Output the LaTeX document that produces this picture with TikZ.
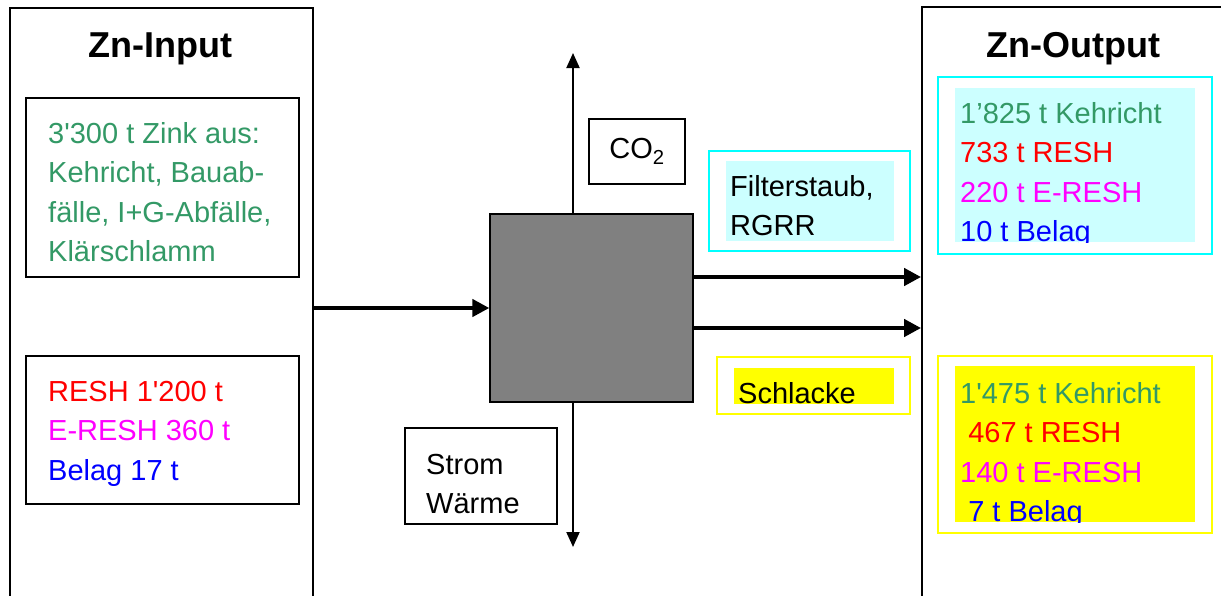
\documentclass[tikz,border=0pt]{standalone}
\usepackage{fontspec}
\setmainfont{Liberation Sans}
\usetikzlibrary{arrows.meta,calc}
\definecolor{SeaGreen}{HTML}{339966}
\definecolor{PureRed}{HTML}{FF0000}
\definecolor{PureMagenta}{HTML}{FF00FF}
\definecolor{PureBlue}{HTML}{0000FF}
\definecolor{CyanLine}{HTML}{00FFFF}
\definecolor{CyanFill}{HTML}{CCFFFF}
\definecolor{YellowLine}{HTML}{FFFF00}
\definecolor{ProcGray}{HTML}{808080}
\begin{document}
\begin{tikzpicture}[x=1pt, y=-1pt,
  bigbox/.style = {draw, line width=1.8pt, inner sep=0pt},
  panel/.style  = {draw, line width=1.3pt, inner sep=0pt},
  tint/.style   = {inner sep=0pt},
  txt/.style    = {inner sep=0pt, align=left, anchor=base west,
                   font=\fontsize{29}{39.5}\selectfont},
  title/.style  = {inner sep=0pt, anchor=base,
                   font=\fontsize{36}{40}\selectfont\bfseries},
  flow/.style   = {line width=4.5pt, -{Triangle[length=17pt,width=17pt]}},
  vent/.style   = {line width=2pt, -{Triangle[length=15pt,width=13pt]}}
]
  \useasboundingbox (0,0) rectangle (1221,595);
  \clip (0,0) rectangle (1221,595);

  \node[bigbox, minimum width=303pt, minimum height=632pt] (inbox)  at (161.5,324) {};
  \node[bigbox, minimum width=358pt, minimum height=633pt] (outbox) at (1101,323.5) {};
  \node[title] (intitle)  at (160,57.5) {Zn-Input};
  \node[title] (outtitle) at (1073,57.5) {Zn-Output};

  \node[panel, minimum width=273pt, minimum height=179pt] (srcmix)  at (162.5,187.5) {};
  \node[txt, SeaGreen] (srcmixtxt) at (48,261.5)
    {3\textquotesingle300 t Zink aus:\\Kehricht, Bauab-\\fälle, I+G-Abfälle,\\Klärschlamm};
  \node[panel, minimum width=273pt, minimum height=148pt] (srcresh) at (162.5,430) {};
  \node[txt] (srcreshtxt) at (48,480)
    {\textcolor{PureRed}{RESH 1\textquotesingle200 t}\\\textcolor{PureMagenta}{E-RESH 360 t}\\\textcolor{PureBlue}{Belag 17 t}};

  \node[draw, line width=1.3pt, fill=ProcGray, minimum width=203pt, minimum height=188pt] (proc) at (591.5,308) {};

  \node[panel, minimum width=96pt, minimum height=65pt] (co2) at (637,151.5)
    {\fontsize{29}{34}\selectfont CO\textsubscript{2}};
  \node[panel, minimum width=152pt, minimum height=96pt] (strom) at (481,476) {};
  \node[txt] (stromtxt) at (426,513.5) {Strom\\Wärme};

  \node[panel, draw=CyanLine, minimum width=201pt, minimum height=100pt] (dust) at (809.5,201) {};
  \node[tint, fill=CyanFill, minimum width=168pt, minimum height=80pt] (dustfill) at (810,201) {};
  \node[txt] (dusttxt) at (730,235.5) {Filterstaub,\\RGRR};
  \node[panel, draw=YellowLine, minimum width=193pt, minimum height=57pt] (slag) at (813.5,385.5) {};
  \node[tint, fill=YellowLine, minimum width=160pt, minimum height=36pt] (slagfill) at (814,386) {};
  \node[txt] (slagtxt) at (738,403) {Schlacke};

  \node[panel, draw=CyanLine, minimum width=274pt, minimum height=177pt] (dustout) at (1075,165.5) {};
  \node[tint, fill=CyanFill, minimum width=240pt, minimum height=154pt] (dustoutfill) at (1075,165) {};
  \begin{scope}
    \clip (dustoutfill.north west) rectangle (dustoutfill.south east);
    \node[txt] (dustouttxt) at (960,241.5)
      {\textcolor{SeaGreen}{1’825 t Kehricht}\\\textcolor{PureRed}{733 t RESH}\\\textcolor{PureMagenta}{220 t E-RESH}\\\textcolor{PureBlue}{10 t Belag}};
  \end{scope}
  \node[panel, draw=YellowLine, minimum width=274pt, minimum height=177pt] (slagout) at (1075,444.5) {};
  \node[tint, fill=YellowLine, minimum width=240pt, minimum height=156pt] (slagoutfill) at (1075,444) {};
  \begin{scope}
    \clip (slagoutfill.north west) rectangle (slagoutfill.south east);
    \node[txt] (slagouttxt) at (960,521.5)
      {\textcolor{SeaGreen}{1\textquotesingle475 t Kehricht}\\\textcolor{PureRed}{\ 467 t RESH}\\\textcolor{PureMagenta}{140 t E-RESH}\\\textcolor{PureBlue}{\ 7 t Belag}};
  \end{scope}

  \coordinate (upend)   at (573,53);
  \coordinate (downend) at (573,547);
  \coordinate (dustpt)  at (693,277);
  \coordinate (slagpt)  at (693,328);

  \draw[flow] (inbox.east |- proc.west) -- (proc.west);
  \foreach \mypt in {dustpt,slagpt}{
    \draw[flow] (proc.east |- \mypt) -- (outbox.west |- \mypt);
  }
  \draw[vent] (proc.north -| upend) -- (upend);
  \draw[vent] (proc.south -| downend) -- (downend);
\end{tikzpicture}
\end{document}
